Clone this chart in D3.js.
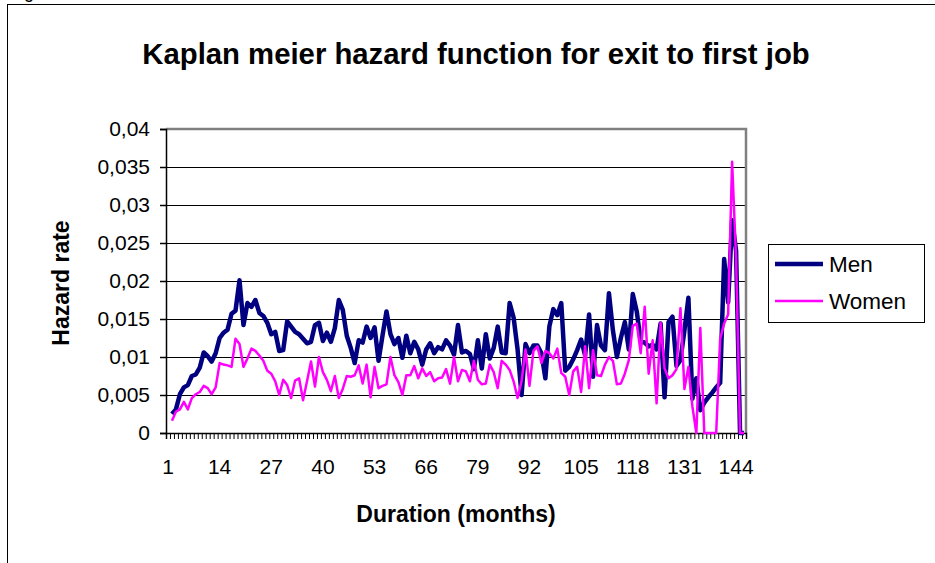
<!DOCTYPE html>
<html>
<head>
<meta charset="utf-8">
<script src="https://cdn.jsdelivr.net/npm/d3@7"></script>
<style>
  body { margin: 0; background: #fff; }
  svg { display: block; font-family: "Liberation Sans", Arial, sans-serif; }
</style>
</head>
<body>
<div id="chart"></div>
<script>
// months 1..146 (month 1 has no value)
const months = d3.range(1, 147);
const xTickLabels = [1, 14, 27, 40, 53, 66, 79, 92, 105, 118, 131, 144];
const yTicks = [0, 0.005, 0.01, 0.015, 0.02, 0.025, 0.03, 0.035, 0.04];

const men = [
  null, .0025, .0031, .0051, .0060, .0063, .0075, .0077, .0086, .0106,
  .0101, .0094, .0105, .0125, .0132, .0136, .0157, .0161, .0201, .0142,
  .0171, .0166, .0175, .0158, .0154, .0145, .0130, .0133, .0108, .0109,
  .0147, .0140, .0133, .0130, .0124, .0118, .0120, .0142, .0145, .0121,
  .0132, .0120, .0138, .0175, .0162, .0128, .0112, .0092, .0122, .0119,
  .0140, .0125, .0139, .0095, .0128, .0160, .0130, .0117, .0125, .0099,
  .0128, .0105, .0120, .0110, .0090, .0110, .0118, .0105, .0113, .0110,
  .0122, .0115, .0103, .0142, .0106, .0108, .0104, .0084, .0122, .0085,
  .0130, .0098, .0112, .0140, .0106, .0105, .0171, .0152, .0110, .0050,
  .0117, .0105, .0115, .0115, .0105, .0072, .0140, .0163, .0155, .0171,
  .0082, .0087, .0097, .0109, .0123, .0102, .0156, .0074, .0142, .0115,
  .0109, .0184, .0135, .0100, .0125, .0146, .0110, .0183, .0160, .0120,
  .0119, .0114, .0116, .0110, .0144, .0047, .0146, .0153, .0088, .0096,
  .0135, .0178, .0045, .0072, .0030, .0040, .0047, .0053, .0060, .0066,
  .0229, .0172, .0280, .0240, 0, 0
];

const women = [
  null, .0016, .0028, .0031, .0041, .0031, .0046, .0051, .0054, .0062,
  .0059, .0051, .0060, .0092, .0090, .0089, .0087, .0124, .0117, .0087,
  .0098, .0111, .0108, .0102, .0095, .0082, .0078, .0068, .0050, .0070,
  .0063, .0046, .0069, .0072, .0043, .0068, .0094, .0061, .0100, .0080,
  .0070, .0055, .0075, .0046, .0058, .0075, .0074, .0076, .0089, .0065,
  .0090, .0047, .0087, .0059, .0062, .0064, .0100, .0076, .0067, .0050,
  .0076, .0076, .0088, .0072, .0085, .0075, .0080, .0068, .0072, .0073,
  .0084, .0065, .0100, .0068, .0083, .0081, .0068, .0095, .0070, .0064,
  .0065, .0090, .0080, .0059, .0095, .0090, .0083, .0068, .0046, .0068,
  .0110, .0062, .0108, .0114, .0092, .0108, .0105, .0098, .0111, .0079,
  .0074, .0050, .0081, .0087, .0054, .0114, .0059, .0109, .0076, .0075,
  .0090, .0100, .0095, .0064, .0065, .0078, .0096, .0141, .0144, .0105,
  .0166, .0078, .0122, .0039, .0145, .0085, .0072, .0076, .0084, .0164,
  .0058, .0087, .0035, 0, .0138, 0, 0, 0, 0, .0124,
  .0144, .0156, .0357, .0230, 0, 0
];

const series = [
  {name: "Men", values: men, color: "#000080", width: 4.5},
  {name: "Women", values: women, color: "#ff00ff", width: 2.5}
];

const W = 935, H = 563;
const plot = {left: 166, right: 746, top: 129, bottom: 433};

const svg = d3.select("#chart").append("svg")
    .attr("width", W)
    .attr("height", H);

// outer chart frame (runs off the right and bottom edges)
svg.append("rect")
    .attr("x", 7.5).attr("y", 4.5)
    .attr("width", 940).attr("height", 580)
    .attr("fill", "#fff")
    .attr("stroke", "#000")
    .attr("stroke-width", 1);

// clipped letter peeking in at the top
svg.append("text")
    .attr("x", 24).attr("y", -2)
    .attr("font-size", 18)
    .text("g");

const x = d3.scalePoint()
    .domain(months)
    .range([plot.left, plot.right])
    .padding(0.5);

const xEdge = d3.scaleLinear()
    .domain([0, months.length])
    .range([plot.left, plot.right]);

const y = d3.scaleLinear()
    .domain([0, 0.04])
    .range([plot.bottom, plot.top]);

// gridlines
svg.append("g")
    .selectAll("line")
    .data(yTicks.filter(d => d > 0 && d < 0.04))
    .join("line")
    .attr("x1", plot.left).attr("x2", plot.right)
    .attr("y1", d => Math.round(y(d)) + 0.5)
    .attr("y2", d => Math.round(y(d)) + 0.5)
    .attr("stroke", "#000")
    .attr("stroke-width", 1);

// plot area border (top, right)
svg.append("path")
    .attr("d", `M${plot.left},${plot.top} H${plot.right} V${plot.bottom}`)
    .attr("fill", "none")
    .attr("stroke", "#808080")
    .attr("stroke-width", 2.5);

// y axis
const fmt = d => String(d).replace(".", ",");
const yAxis = svg.append("g")
    .attr("transform", `translate(${plot.left},0)`)
    .call(d3.axisLeft(y).tickValues(yTicks).tickSize(6).tickPadding(10).tickFormat(fmt));
yAxis.select(".domain").attr("stroke", "#000").attr("stroke-width", 1.5);
yAxis.selectAll(".tick line").attr("stroke", "#000").attr("stroke-width", 1.5);
yAxis.selectAll(".tick text")
    .attr("font-family", "'Liberation Sans', Arial, sans-serif")
    .attr("font-size", 21)
    .attr("fill", "#000");

// x axis: a tick between every month
const xAxis = svg.append("g")
    .attr("transform", `translate(0,${plot.bottom})`)
    .call(d3.axisBottom(xEdge).tickValues(d3.range(0, months.length + 1)).tickSize(6).tickFormat(""));
xAxis.select(".domain").attr("stroke", "#000").attr("stroke-width", 1.5);
xAxis.selectAll(".tick line").attr("stroke", "#000").attr("stroke-width", 1);

svg.append("g")
    .selectAll("text")
    .data(xTickLabels)
    .join("text")
    .attr("x", d => x(d))
    .attr("y", 474)
    .attr("text-anchor", "middle")
    .attr("font-size", 21)
    .text(d => d);

// lines
const line = d3.line()
    .defined(d => d != null)
    .x((d, i) => x(months[i]))
    .y(d => y(d));

svg.append("g")
    .selectAll("path")
    .data(series)
    .join("path")
    .attr("d", d => line(d.values))
    .attr("fill", "none")
    .attr("stroke", d => d.color)
    .attr("stroke-width", d => d.width)
    .attr("stroke-linejoin", "round");

// titles
svg.append("text")
    .attr("x", 476).attr("y", 64)
    .attr("text-anchor", "middle")
    .attr("font-size", 29.3)
    .attr("font-weight", "bold")
    .text("Kaplan meier hazard function for exit to first job");

svg.append("text")
    .attr("x", 456).attr("y", 522)
    .attr("text-anchor", "middle")
    .attr("font-size", 23)
    .attr("font-weight", "bold")
    .text("Duration (months)");

svg.append("text")
    .attr("transform", "translate(69,283) rotate(-90)")
    .attr("text-anchor", "middle")
    .attr("font-size", 23)
    .attr("font-weight", "bold")
    .text("Hazard rate");

// legend
const legend = svg.append("g").attr("transform", "translate(768,244)");
legend.append("rect")
    .attr("x", 0.5).attr("y", 0.5)
    .attr("width", 156).attr("height", 78)
    .attr("fill", "#fff")
    .attr("stroke", "#000");

const item = legend.selectAll(".item")
    .data(series)
    .join("g")
    .attr("class", "item")
    .attr("transform", (d, i) => `translate(0,${20 + i * 37})`);

item.append("line")
    .attr("x1", 7).attr("x2", 55)
    .attr("stroke", d => d.color)
    .attr("stroke-width", d => d.width);

item.append("text")
    .attr("x", 61)
    .attr("dy", "0.35em")
    .attr("font-size", 22.5)
    .text(d => d.name);
</script>
</body>
</html>
